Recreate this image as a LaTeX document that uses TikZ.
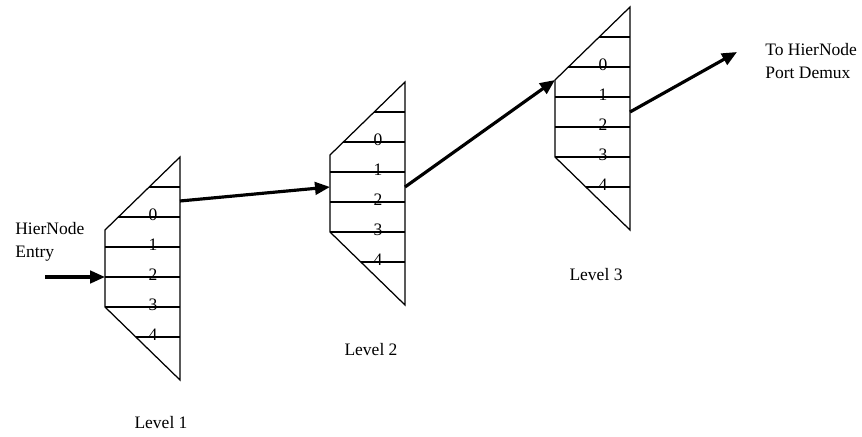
\documentclass[tikz,border=0pt]{standalone}
\usepackage{fontspec}
\setmainfont{Liberation Serif}
\usetikzlibrary{arrows.meta}
\begin{document}
\begin{tikzpicture}[x=0.6pt,y=-0.6pt,font=\fontsize{10.5}{13.8}\selectfont]

\useasboundingbox (0,0) rectangle (862,437);

\tikzstyle{box} = [line width=0.75pt];
\tikzstyle{conn} = [line width=1.9pt, -{Triangle[length=9pt,width=7.5pt]}];
\tikzstyle{lab} = [inner sep=0pt];

% one level: name, top left corner, in and out offsets
\newcommand*{\demuxlevel}[5]{
  \begin{scope}[shift={(#2,#3)}]
    \coordinate (#1) at (0,0);
    \coordinate (#1-in) at (0,#4);
    \coordinate (#1-out) at (75,#5);
    \draw[box] (0,0) -- (75,-73) -- (75,150) -- (0,77) -- cycle;
    \foreach \r/\s in {-43/44.2,-13/13.4,17/0,47/0,77/0,107/30.8}
      \draw[box] (\s,\r) -- (75,\r);
    \foreach \r/\d in {-13/0,17/1,47/2,77/3,107/4}
      \node[lab] (#1-\d) at (48,\r-2) {\d};
  \end{scope}
}

%levels:
\demuxlevel{lone}{105}{230}{47}{-29}
\demuxlevel{ltwo}{330}{155}{32}{32}
\demuxlevel{lthree}{555}{80}{0}{32}

\node (lonetxt) at (161,423) {Level 1};
\node (ltwotxt) at (371,350) {Level 2};
\node (lthreetxt) at (596,275) {Level 3};

%entry and exit:
\node[anchor=west, align=left, inner sep=0pt] (entrytxt) at (15,242) {HierNode\\Entry};
\node[anchor=west, align=left, inner sep=0pt] (exittxt) at (765,61) {To HierNode\\Port Demux};
\coordinate (entry) at (45,277);
\coordinate (exit) at (737,52);

%arrows:
\draw[conn] (entry) -- (lone-in);
\draw[conn] (lone-out) -- (ltwo-in);
\draw[conn] (ltwo-out) -- (lthree-in);
\draw[conn] (lthree-out) -- (exit);

\end{tikzpicture}
\end{document}
